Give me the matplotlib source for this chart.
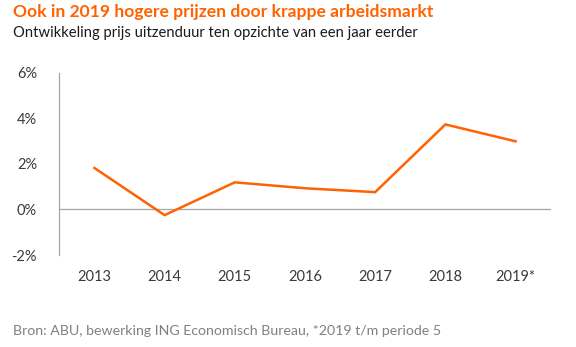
import matplotlib.pyplot as plt

# Data
jaren = ['2013', '2014', '2015', '2016', '2017', '2018', '2019*']
prijs = [1.82, -0.25, 1.19, 0.93, 0.76, 3.73, 2.99]
yticks = [-2, 0, 2, 4, 6]

oranje = '#FF6200'
plt.rcParams['font.family'] = ['Lato', 'DejaVu Sans']

fig = plt.figure(figsize=(5.76, 3.47), dpi=100)
ax = fig.add_axes([0.103, 0.265, 0.853, 0.5255])

x = list(range(len(jaren)))
ax.plot(x, prijs, color=oranje, linewidth=1.8, solid_joinstyle='miter')
ax.axhline(0, color='#a6a6a6', linewidth=0.9, zorder=0)

ax.set_xlim(-0.5, len(jaren) - 0.5)
ax.set_ylim(-2, 6)
ax.set_xticks(x)
ax.set_xticklabels(jaren)
ax.set_yticks(yticks)
ax.set_yticklabels([f'{v}%' for v in yticks])
ax.tick_params(axis='both', length=0, labelsize=10.5, colors='#3a3a3a')
ax.tick_params(axis='y', pad=16)
ax.tick_params(axis='x', pad=11)

for s in ['top', 'right', 'bottom']:
    ax.spines[s].set_visible(False)
ax.spines['left'].set_color('#a6a6a6')
ax.spines['left'].set_linewidth(0.9)

fig.text(0.022, 0.966, 'Ook in 2019 hogere prijzen door krappe arbeidsmarkt',
         color=oranje, fontsize=12.6, fontweight='bold', va='center', ha='left')
fig.text(0.022, 0.906, 'Ontwikkeling prijs uitzenduur ten opzichte van een jaar eerder',
         color='#1a1a1a', fontsize=10.6, va='center', ha='left')
fig.text(0.022, 0.046, 'Bron: ABU, bewerking ING Economisch Bureau, *2019 t/m periode 5',
         color='#808080', fontsize=10.2, va='center', ha='left')

fig.savefig('out.png', dpi=100)
